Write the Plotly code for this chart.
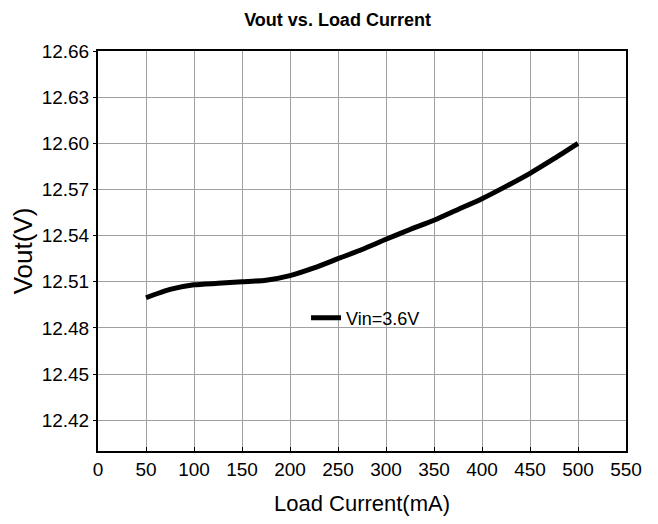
import plotly.graph_objects as go

load_current = [50, 75, 100, 125, 150, 175, 200, 225, 250, 275, 300, 325, 350, 375, 400, 425, 450, 475, 500]
vout = [12.4996, 12.505, 12.508, 12.509, 12.510, 12.511, 12.514, 12.519, 12.525, 12.531, 12.5376,
        12.544, 12.550, 12.557, 12.564, 12.572, 12.5805, 12.590, 12.600]
series_name = "Vin=3.6V"
y_ticks = [12.42, 12.45, 12.48, 12.51, 12.54, 12.57, 12.60, 12.63, 12.66]
x_ticks = [0, 50, 100, 150, 200, 250, 300, 350, 400, 450, 500, 550]

FONT = "Liberation Sans, Arial, sans-serif"
W, H = 650, 516

fig = go.Figure()
fig.add_trace(go.Scatter(x=load_current, y=vout, mode="lines", name=series_name,
                         line=dict(color="black", width=5, shape="spline", smoothing=0.6)))

fig.update_layout(
    width=W, height=H,
    margin=dict(l=90, r=32, t=43, b=73),
    paper_bgcolor="white", plot_bgcolor="white",
    title=dict(text="<b>Vout vs. Load Current</b>", x=0.507, xanchor="center",
               y=1 - 12 / H, yanchor="middle", yref="container",
               font=dict(family=FONT, size=18, color="black")),
    font=dict(family=FONT, color="black"),
    showlegend=True,
    legend=dict(x=0.394, y=0.3325, xanchor="left", yanchor="middle", bgcolor="rgba(0,0,0,0)",
                font=dict(family=FONT, size=18, color="black")),
    xaxis=dict(range=[0, 550], tickvals=x_ticks, ticktext=[str(v) for v in x_ticks],
               showgrid=True, gridcolor="#a0a0a0", gridwidth=1, zeroline=False,
               showline=True, linecolor="black", linewidth=2, mirror=True,
               ticks="inside", ticklen=4, tickcolor="black", automargin=False,
               tickfont=dict(family=FONT, size=19, color="black"),
               title=dict(text="Load Current(mA)", font=dict(family=FONT, size=22, color="black"), standoff=17)),
    yaxis=dict(range=[12.40, 12.66], tickvals=y_ticks, ticktext=[f"{v:.2f}" for v in y_ticks],
               showgrid=True, gridcolor="#a0a0a0", gridwidth=1, zeroline=False,
               showline=True, linecolor="black", linewidth=2, mirror=True,
               ticks="outside", ticklen=3, tickcolor="black", automargin=False,
               tickfont=dict(family=FONT, size=19, color="black"),
               title=dict(text="Vout(V)", font=dict(family=FONT, size=26, color="black"), standoff=6)),
)

fig.write_html("out.html")
